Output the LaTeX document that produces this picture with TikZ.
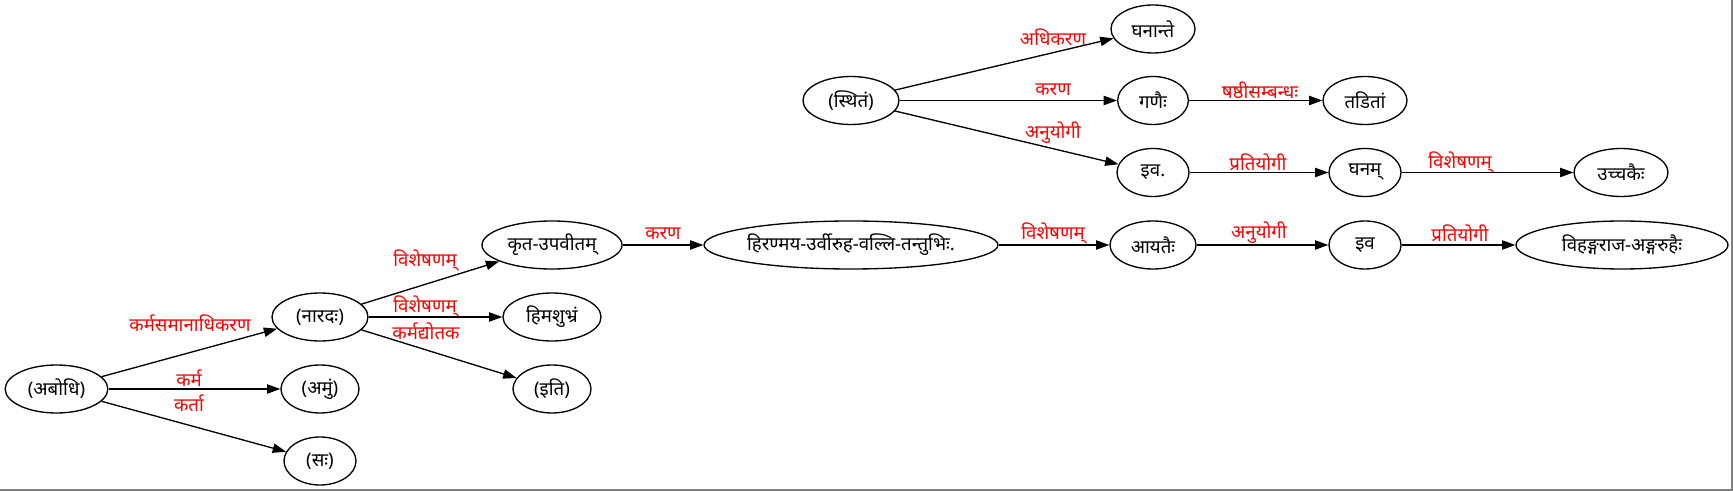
\documentclass[tikz,border=0pt]{standalone}
\usepackage{fontspec}
\setmainfont[Script=Devanagari]{Noto Sans}
\usetikzlibrary{shapes.geometric,arrows.meta}
\begin{document}
\begin{tikzpicture}[x=0.75pt,y=-0.75pt,
  nd/.style={ellipse,draw,line width=1pt,inner sep=0pt,minimum height=36pt,font=\fontsize{14}{16}\selectfont},
  lbl/.style={text=red,inner sep=0pt,font=\fontsize{14}{16}\selectfont},
  edge/.style={line width=1pt,-{Triangle[length=10pt,width=7pt]}}]
\useasboundingbox (0,0) rectangle (1733,491);
\draw[gray,line width=1.5pt] (0,490) -- (1732,490) -- (1732,0);
% nodes
\node[nd,minimum width=77pt] (abodhi) at (56.5,389) {(अबोधि)};
\node[nd,minimum width=58.5pt] (amum) at (320,389) {(अमुं)};
\node[nd,minimum width=54pt] (sah) at (320,461) {(सः)};
\node[nd,minimum width=72pt] (narada) at (320,317) {(नारदः)};
\node[nd,minimum width=105pt] (krta) at (552,245) {कृत-उपवीतम्};
\node[nd,minimum width=73.5pt] (hima) at (552,317) {हिमशुभ्रं};
\node[nd,minimum width=58.5pt] (iti) at (552,389) {(इति)};
\node[nd,minimum width=219pt] (hiran) at (851,245) {हिरण्मय-उर्वीरुह-वल्लि-तन्तुभिः.};
\node[nd,minimum width=64.5pt] (ayataih) at (1153,245) {आयतैः};
\node[nd,minimum width=54pt] (iva) at (1365,245) {इव};
\node[nd,minimum width=159pt] (vihanga) at (1622,245) {विहङ्गराज-अङ्गरुहैः};
\node[nd,minimum width=72pt] (sthitam) at (851,100.5) {(स्थितं)};
\node[nd,minimum width=63pt] (ghanante) at (1153,29) {घनान्ते};
\node[nd,minimum width=53pt] (ganaih) at (1153,100.5) {गणैः};
\node[nd,minimum width=63pt] (taditam) at (1365,100.5) {तडितां};
\node[nd,minimum width=54pt] (ivadot) at (1153,172.5) {इव.};
\node[nd,minimum width=54pt] (ghanam) at (1365,172.5) {घनम्};
\node[nd,minimum width=70.5pt] (uccakaih) at (1621,172.5) {उच्चकैः};
% edges
\draw[edge] (abodhi) -- (narada);
\draw[edge] (abodhi) -- (amum);
\draw[edge] (abodhi) -- (sah);
\draw[edge] (narada) -- (krta);
\draw[edge] (narada) -- (hima);
\draw[edge] (narada) -- (iti);
\draw[edge] (krta) -- (hiran);
\draw[edge] (hiran) -- (ayataih);
\draw[edge] (ayataih) -- (iva);
\draw[edge] (iva) -- (vihanga);
\draw[edge] (sthitam) -- (ghanante);
\draw[edge] (sthitam) -- (ganaih);
\draw[edge] (sthitam) -- (ivadot);
\draw[edge] (ganaih) -- (taditam);
\draw[edge] (ivadot) -- (ghanam);
\draw[edge] (ghanam) -- (uccakaih);
% labels
\node[lbl] (l1) at (190,323) {कर्मसमानाधिकरण};
\node[lbl] (l2) at (189,378) {कर्म};
\node[lbl] (l3) at (189,403) {कर्ता};
\node[lbl] (l4) at (425,260) {विशेषणम्};
\node[lbl] (l5) at (425,306) {विशेषणम्};
\node[lbl] (l6) at (426,331) {कर्मद्योतक};
\node[lbl] (l7) at (663,234) {करण};
\node[lbl] (l8) at (1053,233) {विशेषणम्};
\node[lbl] (l9) at (1259,233) {अनुयोगी};
\node[lbl] (l10) at (1460,233) {प्रतियोगी};
\node[lbl] (l11) at (1053,37) {अधिकरण};
\node[lbl] (l12) at (1053,90) {करण};
\node[lbl] (l13) at (1053,133) {अनुयोगी};
\node[lbl] (l14) at (1260,90) {षष्ठीसम्बन्धः};
\node[lbl] (l15) at (1258,162) {प्रतियोगी};
\node[lbl] (l16) at (1460,162) {विशेषणम्};
\end{tikzpicture}
\end{document}
